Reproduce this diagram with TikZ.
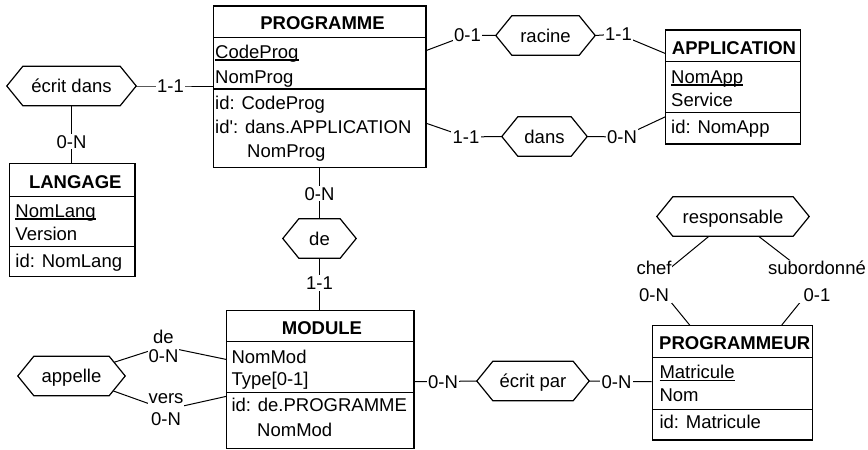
\documentclass[tikz,border=0pt]{standalone}
\usepackage{fontspec}
\setmainfont{Liberation Sans}[Ligatures=TeXOff]
\usetikzlibrary{calc}
\pgfdeclarelayer{back}
\pgfsetlayers{back,main}

% underlined key attribute
\newsavebox\keybox
\newcommand\keyattr[1]{\sbox\keybox{#1}\rlap{\rule[-2.6pt]{\wd\keybox}{1.5pt}}\usebox\keybox}

% relationship type: hexagon with pointed left and right ends
\newcommand\relhex[4]{% name, centre, width, label
  \node[relframe, minimum width=#3] (#1) at (#2) {};
  \draw[relline] (#1.west) -- ([xshift=16pt]#1.north west) -- ([xshift=-16pt]#1.north east)
    -- (#1.east) -- ([xshift=-16pt]#1.south east) -- ([xshift=16pt]#1.south west) -- cycle;
  \node[reltext] (#1-t) at (#1.center) {#4};
}

\tikzset{
  txt/.style={font=\fontsize{18.5}{22}\selectfont, inner sep=0pt, text height=13.25pt, text depth=0pt},
  attr/.style={txt, anchor=west},
  title/.style={txt, font=\fontsize{18.5}{22}\selectfont\bfseries},
  entity/.style={draw, line width=1.2pt, fill=white, inner sep=0pt},
  sepline/.style={line width=1.2pt},
  relframe/.style={inner sep=0pt, minimum height=39pt},
  relline/.style={fill=white, line width=1.2pt},
  reltext/.style={txt},
  card/.style={txt, fill=white, inner sep=1.2pt},
  role/.style={font=\fontsize{18.5}{22}\selectfont, align=center, fill=white, inner sep=1pt},
  conn/.style={line width=1pt},
}

\begin{document}
\begin{tikzpicture}[x=1pt,y=-1pt]
\useasboundingbox (0,0) rectangle (868,450);
\begin{pgfonlayer}{back}
  \fill[white] (0,0) rectangle (868,450);
\end{pgfonlayer}

% ---------- entity types ----------
% PROGRAMME
\node[entity, minimum width=212.7, minimum height=161.7] (prog) at (319.65,86.85) {};
\draw[sepline] (213.3,37.7) -- (426,37.7);
\draw[sepline] (213.3,89) -- (426,89);
\node[title] (prog-h) at (322.5,22.5) {PROGRAMME};
\node[attr] (prog-a1) at (215,51.7) {\keyattr{CodeProg}};
\node[attr] (prog-a2) at (215,76.7) {NomProg};
\node[attr] (prog-i1) at (215,103) {id: CodeProg};
\node[attr] (prog-i2) at (215,127) {id': dans.APPLICATION};
\node[attr] (prog-i3) at (247,151) {NomProg};

% LANGAGE
\node[entity, minimum width=125.7, minimum height=113.4] (lang) at (72.15,220) {};
\draw[sepline] (9.3,196.7) -- (135,196.7);
\draw[sepline] (9.3,246.7) -- (135,246.7);
\node[title] (lang-h) at (75.3,181.5) {LANGAGE};
\node[attr] (lang-a1) at (15.3,210.5) {\keyattr{NomLang}};
\node[attr] (lang-a2) at (15.3,234) {Version};
\node[attr] (lang-i1) at (15.3,260.5) {id: NomLang};

% APPLICATION
\node[entity, minimum width=135, minimum height=114] (app) at (733.2,87) {};
\draw[sepline] (665.7,61.7) -- (800.7,61.7);
\draw[sepline] (665.7,112.7) -- (800.7,112.7);
\node[title] (app-h) at (734,47.5) {APPLICATION};
\node[attr] (app-a1) at (671,76.5) {\keyattr{NomApp}};
\node[attr] (app-a2) at (671,99.5) {Service};
\node[attr] (app-i1) at (671,127) {id: NomApp};

% MODULE
\node[entity, minimum width=187.3, minimum height=137.6] (mod) at (320.35,379.5) {};
\draw[sepline] (226.7,341.7) -- (414,341.7);
\draw[sepline] (226.7,392.7) -- (414,392.7);
\node[title] (mod-h) at (322,327.5) {MODULE};
\node[attr] (mod-a1) at (231.3,356.5) {NomMod};
\node[attr] (mod-a2) at (231.3,379.3) {Type[0-1]};
\node[attr] (mod-i1) at (231.3,405) {id: de.PROGRAMME};
\node[attr] (mod-i2) at (257,430) {NomMod};

% PROGRAMMEUR
\node[entity, minimum width=160.4, minimum height=114.3] (prg) at (732.5,382.85) {};
\draw[sepline] (652.3,357.7) -- (812.7,357.7);
\draw[sepline] (652.3,409.3) -- (812.7,409.3);
\node[title, anchor=west] (prg-h) at (659,342.5) {PROGRAMMEUR};
\node[attr] (prg-a1) at (659.3,372) {\keyattr{Matricule}};
\node[attr] (prg-a2) at (659.3,395) {Nom};
\node[attr] (prg-i1) at (659.3,422) {id: Matricule};

% ---------- relationship types ----------
\relhex{ecd}{71.5,86}{129}{écrit dans}
\relhex{rac}{545.5,35.5}{99}{racine}
\relhex{dns}{544.5,136.5}{85}{dans}
\relhex{de}{319.5,238.5}{73}{de}
\relhex{appl}{71.5,376}{107}{appelle}
\relhex{ecp}{533,381}{112}{écrit par}
\relhex{resp}{733,216.5}{152}{responsable}

% ---------- cardinalities and roles ----------
\node[card] (c1) at (170.5,86) {1-1};
\node[card] (c2) at (71.5,141.5) {0-N};
\node[card] (c3) at (319.5,193.5) {0-N};
\node[card] (c4) at (319.5,283) {1-1};
\node[card] (c5) at (467.5,35) {0-1};
\node[card] (c6) at (618.5,34) {1-1};
\node[card] (c7) at (466,137) {1-1};
\node[card] (c8) at (622,137) {0-N};
\node[card] (c9) at (443,381.5) {0-N};
\node[card] (c10) at (616.5,381.5) {0-N};
\node[role] (r1) at (163.5,346.4) {de\\[-3pt]0-N};
\node[role] (r2) at (166,409.8) {vers\\0-N};
\node[role] (r3) at (654,281.4) {chef\\[5pt]0-N};
\node[role] (r4) at (817,281.4) {subordonné\\[5pt]0-1};

% ---------- connectors ----------
\begin{pgfonlayer}{back}
\draw[conn] (ecd.east) -- (c1.center) -- (prog.west |- c1);
\draw[conn] (ecd.south) -- (c2.center) -- (ecd.south |- lang.north);
\draw[conn] (de.north |- prog.south) -- (c3.center) -- (de.north);
\draw[conn] (de.south) -- (c4.center) -- (de.south |- mod.north);
\draw[conn] ($(prog.north east)+(0,45)$) -- (c5.center) -- (rac.west);
\draw[conn] (rac.east) -- (c6.center) -- ($(app.north west)+(0,24)$);
\draw[conn] ($(prog.north east)+(0,118)$) -- (c7.center) -- (dns.west);
\draw[conn] (dns.east) -- (c8.center) -- ($(app.north west)+(0,87.5)$);
\draw[conn] (mod.east |- c9) -- (c9.center) -- (ecp.west);
\draw[conn] (ecp.east) -- (c10.center) -- (prg.west |- c10);
\draw[conn] (appl.center) -- (r1.center) -- ($(mod.north west)+(0,49.3)$);
\draw[conn] (appl.center) -- (r2.center) -- ($(mod.north west)+(0,86.3)$);
\draw[conn] (resp.center) -- (r3.center) -- ($(prg.north west)+(38,0)$);
\draw[conn] (resp.center) -- (r4.center) -- ($(prg.north west)+(130,0)$);
\end{pgfonlayer}
\end{tikzpicture}
\end{document}
